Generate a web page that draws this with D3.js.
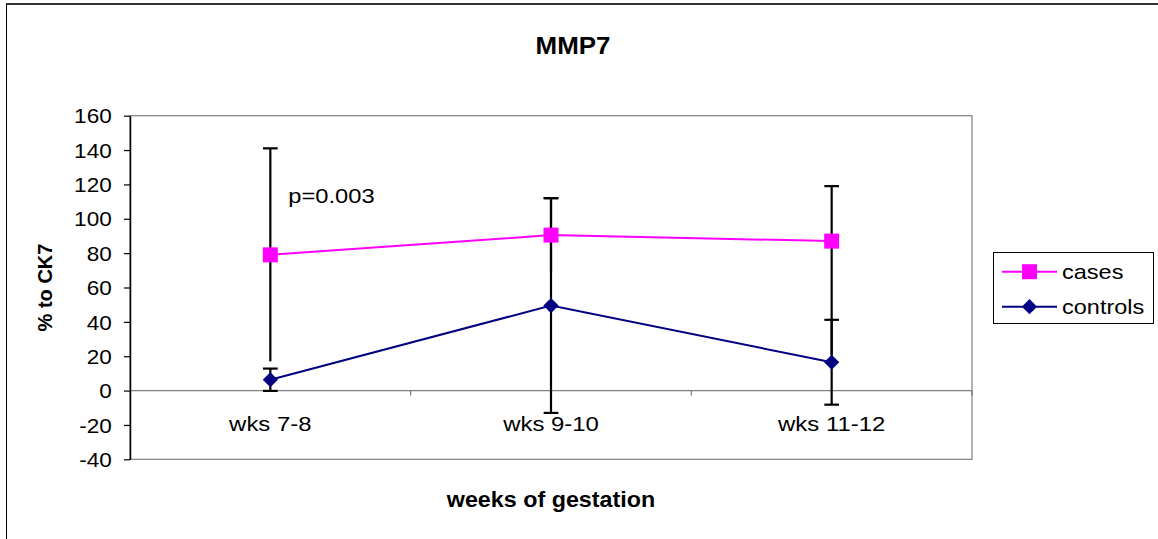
<!DOCTYPE html>
<html>
<head>
<meta charset="utf-8">
<script src="https://cdn.jsdelivr.net/npm/d3@7"></script>
<style>
  html, body { margin: 0; padding: 0; background: #fff; }
  svg { display: block; font-family: "Liberation Sans", Arial, sans-serif; }
</style>
</head>
<body>
<svg id="chart" width="1158" height="539"></svg>
<script>
// MMP7 expression relative to CK7 across gestational age groups
const categories = ["wks 7-8", "wks 9-10", "wks 11-12"];
const casesValues = [79, 90.5, 87];
const controlsValues = [6.3, 49.5, 16.5];
const casesErrUp = [62, 21.5, 32];
const casesErrDown = [62, 21.5, 66];
const controlsErr = [6.5, 62.5, 24.7];
const yTicks = [-40, -20, 0, 20, 40, 60, 80, 100, 120, 140, 160];
const seriesNames = ["cases", "controls"];
const seriesColors = ["#ff00ff", "#000080"];

const svg = d3.select("#chart");
const W = 1158, H = 539;
const plot = { left: 130, right: 972, top: 115.7, bottom: 459.3 };

// outer chart frame
svg.append("line").attr("x1", 6).attr("x2", W).attr("y1", 4).attr("y2", 4)
  .attr("stroke", "#333").attr("stroke-width", 2);
svg.append("line").attr("x1", 6.5).attr("x2", 6.5).attr("y1", 4).attr("y2", H)
  .attr("stroke", "#000").attr("stroke-width", 1);

const x = d3.scaleBand().domain(categories).range([plot.left, plot.right]).padding(0);
const y = d3.scaleLinear().domain([-40, 160]).range([plot.bottom, plot.top]);
const cx = c => x(c) + x.bandwidth() / 2;

// plot area border
svg.append("rect")
  .attr("x", plot.left).attr("y", plot.top)
  .attr("width", plot.right - plot.left).attr("height", plot.bottom - plot.top)
  .attr("fill", "none").attr("stroke", "#808080").attr("stroke-width", 1.2);

// zero line with category boundary ticks
svg.append("line")
  .attr("x1", plot.left).attr("x2", plot.right)
  .attr("y1", y(0)).attr("y2", y(0))
  .attr("stroke", "#808080").attr("stroke-width", 1.2);
svg.append("g").selectAll("line")
  .data(categories.slice(1).concat(["end"]))
  .join("line")
  .attr("x1", d => d === "end" ? plot.right : x(d))
  .attr("x2", d => d === "end" ? plot.right : x(d))
  .attr("y1", y(0)).attr("y2", y(0) + 5)
  .attr("stroke", "#606060").attr("stroke-width", 1);

// y axis
const sxTick = 1.1;
const yAxis = svg.append("g")
  .attr("transform", `translate(${plot.left},0)`)
  .call(d3.axisLeft(y).tickValues(yTicks).tickFormat(d => String(d)).tickSize(6).tickSizeOuter(0));
yAxis.select(".domain").attr("stroke", "#000").attr("stroke-width", 1.5);
yAxis.selectAll(".tick line").attr("stroke", "#000").attr("stroke-width", 1.2);
yAxis.selectAll(".tick text")
  .attr("x", -18.3 / sxTick)
  .attr("dy", "0.35em")
  .attr("transform", `scale(${sxTick},1)`)
  .attr("font-size", 20.5)
  .attr("font-family", "Liberation Sans, Arial, sans-serif")
  .attr("fill", "#000");

// category labels below the zero line
const sxCat = 1.14;
const xAxis = svg.append("g")
  .attr("transform", `translate(0,${y(0)})`)
  .call(d3.axisBottom(x).tickSize(0).tickPadding(26));
xAxis.select(".domain").remove();
xAxis.selectAll(".tick text")
  .attr("transform", `scale(${sxCat},1)`)
  .attr("font-size", 21)
  .attr("font-family", "Liberation Sans, Arial, sans-serif")
  .attr("fill", "#000");

// error bars
const capW = 14.7;
const eb = svg.append("g").attr("stroke", "#000").attr("stroke-width", 2.2).attr("fill", "none");
categories.forEach((c, i) => {
  const px = cx(c);
  // cases: upper whisker with cap, lower whisker without cap
  eb.append("line").attr("x1", px).attr("x2", px)
    .attr("y1", y(casesValues[i] + casesErrUp[i])).attr("y2", y(casesValues[i] - casesErrDown[i]));
  eb.append("line").attr("x1", px - capW / 2).attr("x2", px + capW / 2)
    .attr("y1", y(casesValues[i] + casesErrUp[i])).attr("y2", y(casesValues[i] + casesErrUp[i]));
  // controls: symmetric whiskers with caps
  const lo = controlsValues[i] - controlsErr[i], hi = controlsValues[i] + controlsErr[i];
  eb.append("line").attr("x1", px).attr("x2", px).attr("y1", y(hi)).attr("y2", y(lo));
  [lo, hi].forEach(v => {
    eb.append("line").attr("x1", px - capW / 2).attr("x2", px + capW / 2)
      .attr("y1", y(v)).attr("y2", y(v));
  });
});

// series lines and markers
const line = d3.line().x((d, i) => cx(categories[i])).y(d => y(d));
const diamond = (s) => `M0,${-s}L${s},0L0,${s}L${-s},0Z`;

svg.append("path").datum(casesValues).attr("d", line)
  .attr("fill", "none").attr("stroke", seriesColors[0]).attr("stroke-width", 2);
svg.append("path").datum(controlsValues).attr("d", line)
  .attr("fill", "none").attr("stroke", seriesColors[1]).attr("stroke-width", 2);

svg.append("g").selectAll("rect").data(casesValues).join("rect")
  .attr("x", (d, i) => cx(categories[i]) - 7.5)
  .attr("y", d => y(d) - 7.5)
  .attr("width", 15).attr("height", 15)
  .attr("fill", seriesColors[0]);
svg.append("g").selectAll("path").data(controlsValues).join("path")
  .attr("transform", (d, i) => `translate(${cx(categories[i])},${y(d)})`)
  .attr("d", diamond(7.6))
  .attr("fill", seriesColors[1]);

// significance note
svg.append("text")
  .attr("transform", `translate(288.3,202.5) scale(1.13,1)`)
  .attr("font-size", 21).attr("fill", "#000")
  .text("p=0.003");

// title and axis titles
svg.append("text")
  .attr("transform", `translate(573,54) scale(1.08,1)`)
  .attr("text-anchor", "middle")
  .attr("font-size", 24).attr("font-weight", "bold")
  .text("MMP7");
svg.append("text")
  .attr("transform", `translate(551,507) scale(1.06,1)`)
  .attr("text-anchor", "middle")
  .attr("font-size", 22).attr("font-weight", "bold")
  .text("weeks of gestation");
svg.append("text")
  .attr("transform", `translate(52,${(plot.top + plot.bottom) / 2}) rotate(-90)`)
  .attr("text-anchor", "middle")
  .attr("font-size", 20).attr("font-weight", "bold")
  .text("% to CK7");

// legend
const legend = svg.append("g");
legend.append("rect")
  .attr("x", 993.5).attr("y", 252.5).attr("width", 160).attr("height", 71)
  .attr("fill", "#fff").attr("stroke", "#000").attr("stroke-width", 1);
const rowsY = [271.7, 306.7];
seriesNames.forEach((name, i) => {
  const g = legend.append("g").attr("transform", `translate(0,${rowsY[i]})`);
  g.append("line").attr("x1", 1002).attr("x2", 1057).attr("y1", 0).attr("y2", 0)
    .attr("stroke", seriesColors[i]).attr("stroke-width", 2);
  if (i === 0) {
    g.append("rect").attr("x", 1029.5 - 7.5).attr("y", -7.5).attr("width", 15).attr("height", 15)
      .attr("fill", seriesColors[i]);
  } else {
    g.append("path").attr("transform", "translate(1029.5,0)").attr("d", diamond(7.6))
      .attr("fill", seriesColors[i]);
  }
  g.append("text")
    .attr("transform", `translate(1062,7.5) scale(1.12,1)`)
    .attr("font-size", 21).attr("fill", "#000")
    .text(name);
});
</script>
</body>
</html>
